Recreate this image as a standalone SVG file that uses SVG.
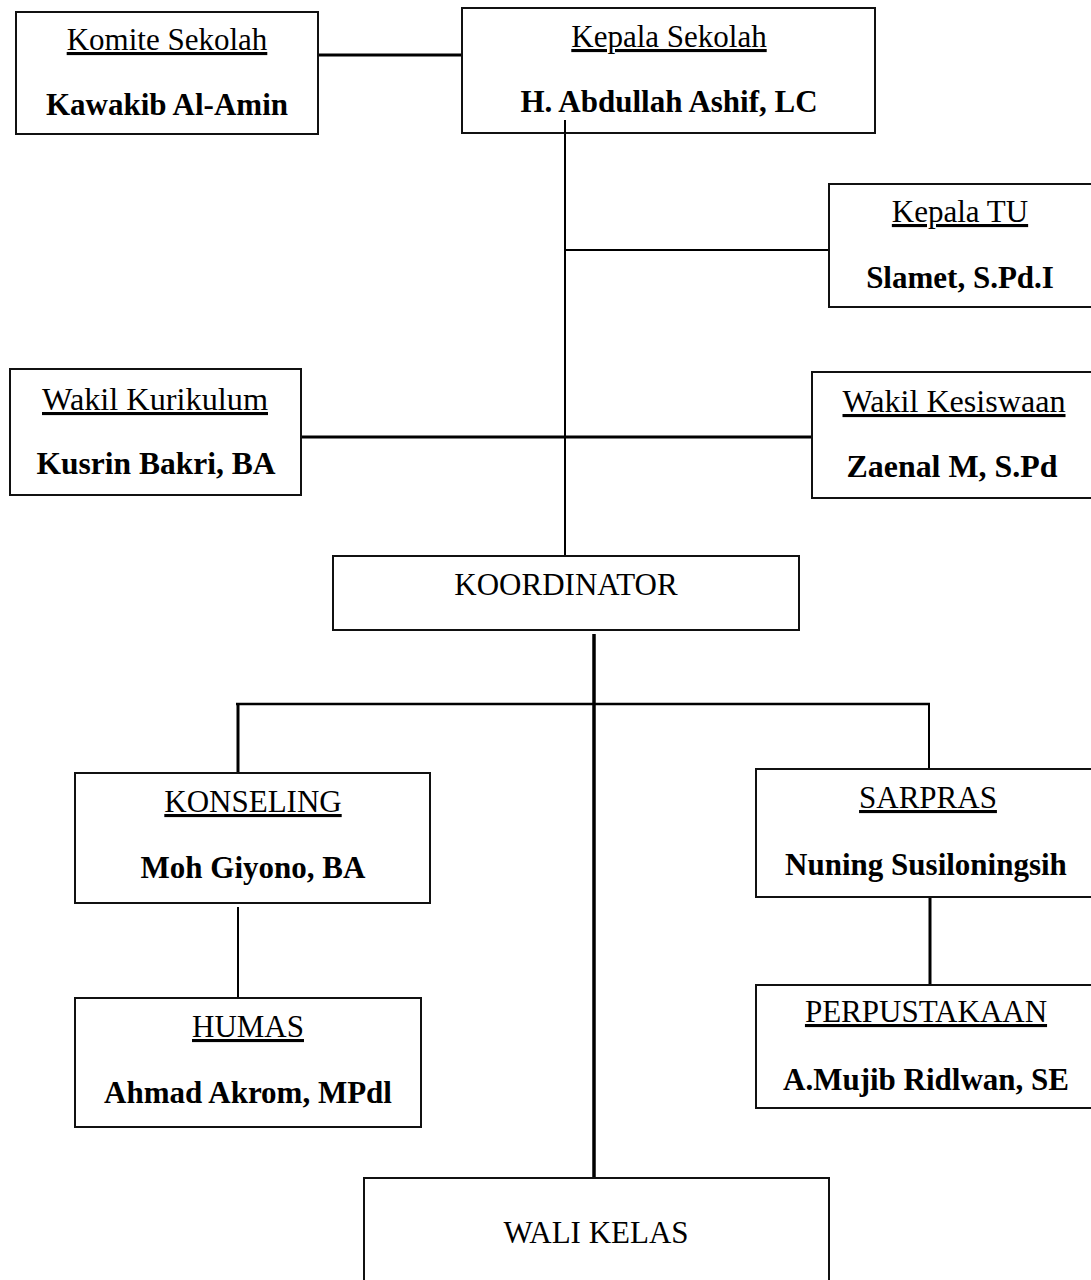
<svg xmlns="http://www.w3.org/2000/svg" width="1091" height="1280" viewBox="0 0 1091 1280">
<style>
.box{fill:#fff;stroke:#111;stroke-width:2}
.t{font-family:"Liberation Serif","Times New Roman",serif;font-size:31px;fill:#000;text-anchor:middle}
.u{text-decoration:underline}
.b{font-weight:bold}
.c{stroke:#000;fill:none}
</style>
<rect width="1091" height="1280" fill="#fff"/>
<g id="connectors">
<line class="c" x1="318" y1="55" x2="462" y2="55" stroke-width="3"/>
<line class="c" x1="565" y1="120" x2="565" y2="556" stroke-width="2"/>
<line class="c" x1="565" y1="250" x2="830" y2="250" stroke-width="2"/>
<line class="c" x1="301" y1="437" x2="812" y2="437" stroke-width="3"/>
<line class="c" x1="594" y1="634" x2="594" y2="1178" stroke-width="3.5"/>
<line class="c" x1="236" y1="704" x2="930" y2="704" stroke-width="2.5"/>
<line class="c" x1="238" y1="704" x2="238" y2="773" stroke-width="3"/>
<line class="c" x1="929" y1="704" x2="929" y2="769" stroke-width="2"/>
<line class="c" x1="238" y1="907" x2="238" y2="997" stroke-width="2"/>
<line class="c" x1="930" y1="897" x2="930" y2="985" stroke-width="3"/>
</g>
<g id="komite">
<rect class="box" x="16" y="12" width="302" height="122"/>
<text class="t u" x="167" y="50">Komite Sekolah</text>
<text class="t b" x="167" y="115">Kawakib Al-Amin</text>
</g>
<g id="kepala-sekolah">
<rect class="box" x="462" y="8" width="413" height="125"/>
<text class="t u" x="669" y="47">Kepala Sekolah</text>
<text class="t b" x="669" y="112">H. Abdullah Ashif, LC</text>
</g>
<line class="c" x1="565" y1="120" x2="565" y2="133" stroke-width="2"/>
<g id="kepala-tu">
<rect class="box" x="829" y="184" width="270" height="123"/>
<text class="t u" x="960" y="222">Kepala TU</text>
<text class="t b" x="960" y="288">Slamet, S.Pd.I</text>
</g>
<g id="wakil-kurikulum">
<rect class="box" x="10" y="369" width="291" height="126"/>
<text class="t u" x="155" y="410" font-size="37" textLength="226" lengthAdjust="spacingAndGlyphs">Wakil Kurikulum</text>
<text class="t b" x="156" y="474" font-size="37" textLength="239" lengthAdjust="spacingAndGlyphs">Kusrin Bakri, BA</text>
</g>
<g id="wakil-kesiswaan">
<rect class="box" x="812" y="372" width="290" height="126"/>
<text class="t u" x="954" y="412" font-size="37" textLength="223" lengthAdjust="spacingAndGlyphs">Wakil Kesiswaan</text>
<text class="t b" x="952" y="477" font-size="37" textLength="211" lengthAdjust="spacingAndGlyphs">Zaenal M, S.Pd</text>
</g>
<g id="koordinator">
<rect class="box" x="333" y="556" width="466" height="74"/>
<text class="t" x="566" y="595">KOORDINATOR</text>
</g>
<g id="konseling">
<rect class="box" x="75" y="773" width="355" height="130"/>
<text class="t u" x="253" y="812">KONSELING</text>
<text class="t b" x="253" y="878">Moh Giyono, BA</text>
</g>
<g id="humas">
<rect class="box" x="75" y="998" width="346" height="129"/>
<text class="t u" x="248" y="1037">HUMAS</text>
<text class="t b" x="248" y="1103">Ahmad Akrom, MPdl</text>
</g>
<g id="sarpras">
<rect class="box" x="756" y="769" width="345" height="128"/>
<text class="t u" x="928" y="808">SARPRAS</text>
<text class="t b" x="926" y="875">Nuning Susiloningsih</text>
</g>
<g id="perpustakaan">
<rect class="box" x="756" y="985" width="345" height="123"/>
<text class="t u" x="926" y="1022">PERPUSTAKAAN</text>
<text class="t b" x="926" y="1090">A.Mujib Ridlwan, SE</text>
</g>
<g id="wali-kelas">
<rect class="box" x="364" y="1178" width="465" height="120"/>
<text class="t" x="596" y="1243">WALI KELAS</text>
</g>
</svg>
